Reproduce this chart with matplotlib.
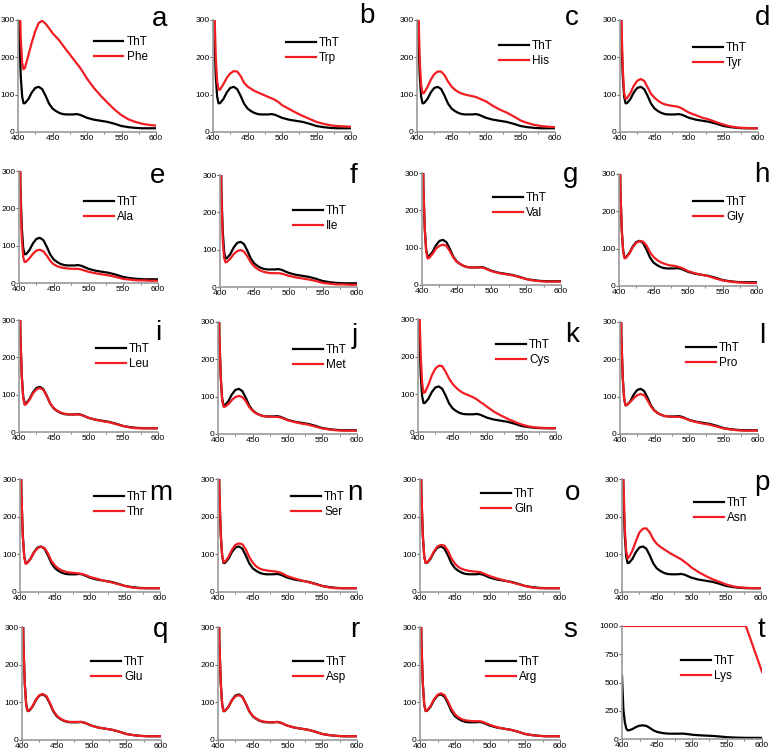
import matplotlib
matplotlib.use('Agg')
import matplotlib.pyplot as plt

plt.rcParams['font.family'] = ['Liberation Sans', 'DejaVu Sans']

# wavelength grid (nm) shared by all spectra
wl = [400, 402, 404, 406, 408, 410, 415, 420, 425, 430, 435, 440, 445, 450, 455, 460, 465,
      470, 475, 480, 485, 490, 495, 500, 510, 520, 530, 540, 550, 560, 570, 580, 590, 600]

tht = [560, 260, 150, 95, 77, 77, 88, 106, 118, 121, 115, 97, 76, 63, 56, 51, 48,
       47, 47, 47, 48, 46, 42, 38, 33, 30, 27, 22, 16, 13, 11, 10, 10, 10]

phe = [560, 400, 250, 185, 168, 172, 205, 240, 270, 292, 298, 290, 278, 265, 255, 245, 232,
       220, 208, 196, 184, 172, 158, 143, 118, 97, 78, 60, 45, 34, 27, 22, 19, 17]
trp = [560, 330, 200, 135, 114, 113, 128, 145, 157, 163, 162, 150, 132, 122, 116, 110, 106,
       102, 98, 94, 90, 86, 80, 72, 62, 52, 43, 35, 27, 22, 18, 16, 15, 14]
his = [560, 330, 190, 125, 104, 104, 120, 140, 155, 162, 162, 152, 135, 122, 113, 107, 103,
       100, 98, 96, 94, 90, 86, 82, 70, 60, 52, 42, 31, 24, 19, 16, 14, 13]
tyr = [560, 300, 170, 105, 89, 90, 104, 124, 137, 142, 137, 120, 102, 92, 84, 78, 74,
       72, 70, 69, 67, 63, 57, 52, 45, 38, 33, 26, 20, 15, 12, 11, 10, 10]
ala = [560, 250, 120, 70, 56, 57, 66, 78, 87, 89, 85, 73, 59, 50, 45, 42, 40,
       39, 38, 38, 38, 36, 33, 30, 26, 23, 20, 16, 11, 9, 7, 7, 6, 6]
ile = [560, 250, 125, 78, 66, 67, 76, 88, 96, 99, 95, 82, 66, 55, 48, 43, 40,
       38, 37, 37, 37, 36, 33, 30, 26, 23, 20, 16, 11, 9, 7, 7, 6, 6]
val = [560, 260, 150, 90, 71, 72, 83, 97, 105, 108, 105, 91, 74, 62, 56, 51, 48,
       47, 47, 47, 47, 45, 41, 37, 32, 29, 26, 21, 16, 12, 10, 9, 9, 9]
gly = [560, 260, 150, 92, 74, 75, 87, 104, 116, 120, 119, 108, 90, 78, 70, 64, 60,
       57, 55, 54, 52, 49, 45, 40, 34, 30, 26, 20, 15, 12, 10, 9, 8, 8]
leu = [560, 260, 150, 92, 73, 74, 86, 103, 114, 118, 113, 96, 76, 64, 57, 52, 49,
       48, 47, 47, 47, 45, 42, 38, 33, 29, 26, 21, 16, 12, 10, 10, 10, 10]
met = [560, 260, 150, 90, 73, 73, 80, 91, 99, 102, 99, 88, 72, 62, 55, 51, 48,
       47, 46, 46, 46, 44, 41, 37, 32, 28, 25, 20, 15, 12, 10, 9, 9, 9]
cys = [560, 330, 200, 130, 104, 105, 125, 150, 168, 176, 175, 160, 142, 128, 118, 110, 104,
       100, 96, 92, 87, 80, 74, 67, 54, 44, 35, 27, 20, 15, 12, 11, 10, 10]
pro = [560, 260, 150, 95, 77, 78, 86, 96, 104, 107, 104, 90, 73, 62, 55, 51, 48,
       47, 46, 46, 46, 44, 41, 37, 32, 28, 25, 20, 15, 12, 10, 9, 9, 9]
thr = [560, 260, 150, 93, 75, 76, 88, 105, 116, 120, 117, 102, 82, 70, 62, 57, 54,
       52, 51, 50, 49, 47, 44, 40, 35, 30, 26, 21, 16, 12, 10, 10, 10, 10]
ser = [560, 270, 155, 97, 79, 80, 93, 112, 125, 129, 127, 113, 93, 78, 68, 62, 59,
       57, 56, 55, 54, 51, 47, 42, 36, 31, 26, 21, 16, 12, 10, 10, 10, 10]
gln = [560, 265, 152, 95, 77, 78, 90, 108, 121, 125, 123, 109, 89, 75, 66, 61, 58,
       56, 55, 54, 53, 50, 46, 42, 36, 31, 26, 21, 16, 12, 10, 10, 10, 10]
asn = [560, 300, 170, 110, 89, 92, 110, 135, 158, 168, 169, 158, 140, 128, 120, 114, 108,
       102, 97, 92, 87, 80, 73, 65, 53, 43, 34, 27, 20, 15, 12, 11, 10, 10]
glu = [560, 260, 150, 93, 77, 78, 89, 107, 119, 122, 117, 99, 78, 65, 57, 52, 49,
       48, 48, 48, 48, 46, 42, 38, 33, 30, 27, 22, 16, 13, 11, 10, 10, 10]
asp = [560, 260, 150, 93, 76, 77, 88, 105, 116, 119, 114, 97, 77, 64, 57, 52, 49,
       48, 47, 47, 48, 46, 42, 38, 33, 30, 27, 22, 16, 13, 11, 10, 10, 10]
arg = [560, 265, 152, 95, 77, 78, 90, 108, 120, 124, 119, 102, 82, 68, 60, 55, 52,
       51, 50, 50, 50, 48, 44, 40, 34, 30, 27, 22, 16, 13, 11, 10, 10, 10]

# Lys saturates the detector
lys_wl = [400, 577, 600]
lys = [1000, 1000, 595]

letters = list('abcdefghijklmnopqrst')
names = ['Phe', 'Trp', 'His', 'Tyr', 'Ala', 'Ile', 'Val', 'Gly', 'Leu', 'Met',
         'Cys', 'Pro', 'Thr', 'Ser', 'Gln', 'Asn', 'Glu', 'Asp', 'Arg', 'Lys']
series = [phe, trp, his, tyr, ala, ile, val, gly, leu, met,
          cys, pro, thr, ser, gln, asn, glu, asp, arg, lys]

W, H = 773, 752
# axes boxes in pixels: left, right, top, bottom
boxes = [
    (18, 156, 20, 132), (213, 351, 20, 132), (417, 555, 20, 132), (620, 758, 20, 132),
    (19, 158, 171, 283), (220, 357, 175, 287), (422, 561, 173, 285), (619, 757, 174, 286),
    (19, 158, 320, 432), (218, 357, 322, 434), (418, 556, 319, 432), (620, 758, 322, 434),
    (20, 160, 479, 592), (218, 357, 479, 592), (420, 560, 479, 592), (622, 761, 479, 592),
    (22, 161, 627, 740), (218, 357, 627, 740), (420, 560, 627, 740), (622, 762, 626, 739),
]
# panel letter positions (center x, baseline y) in pixels
letter_pos = [
    (160, 26), (367, 23), (572, 25), (763, 25),
    (158, 183), (354, 183), (571, 182), (762, 182),
    (158, 340), (355, 343), (572, 342), (762, 343),
    (161, 500), (355, 500), (573, 500), (762, 490),
    (161, 637), (355, 637), (570, 637), (761, 637),
]
# legend anchors: right edge of text, centre of first entry (pixels)
legend_pos = [
    (148, 42), (340, 43), (553, 46), (747, 48),
    (138, 202), (347, 211), (547, 198), (747, 202),
    (150, 349), (347, 350), (550, 345), (740, 348),
    (148, 497), (345, 497), (535, 494), (748, 503),
    (145, 662), (347, 662), (540, 662), (735, 661),
]

fig = plt.figure(figsize=(W / 100, H / 100), dpi=100)
red = '#f01e23'

for i in range(20):
    l, r, t, b = boxes[i]
    ax = fig.add_axes([l / W, 1 - b / H, (r - l) / W, (b - t) / H])
    ax.plot(wl, tht, color='black', lw=1.6, label='ThT')
    if letters[i] == 't':
        ax.plot(lys_wl, series[i], color=red, lw=1.6, label=names[i])
        ax.set_ylim(0, 1000)
        ax.set_yticks([0, 250, 500, 750, 1000])
    else:
        ax.plot(wl, series[i], color=red, lw=1.6, label=names[i])
        ax.set_ylim(0, 300)
        ax.set_yticks([0, 100, 200, 300])
    ax.set_xlim(400, 600)
    ax.set_xticks([400, 450, 500, 550, 600])
    ax.set_xticks([425, 475, 525, 575], minor=True)
    for s in ['top', 'right']:
        ax.spines[s].set_visible(False)
    for s in ['left', 'bottom']:
        ax.spines[s].set_color('#9a9a9a')
        ax.spines[s].set_linewidth(1.2)
    ax.tick_params(labelsize=6.1, length=2, width=0.8, color='#666666', pad=0.5)
    ax.tick_params(which='minor', length=1.3, width=0.6, color='#666666')
    lx, ly = legend_pos[i]
    ax.legend(loc='upper right', bbox_to_anchor=(lx / W, 1 - (ly - 6) / H),
              bbox_transform=fig.transFigure, frameon=False,
              fontsize=8.5, handlelength=2.5, handletextpad=0.3,
              borderpad=0, borderaxespad=0, labelspacing=0.25)
    px, py = letter_pos[i]
    fig.text(px / W, 1 - py / H, letters[i], fontsize=20, ha='center', va='baseline')

fig.savefig('out.png', dpi=100)
